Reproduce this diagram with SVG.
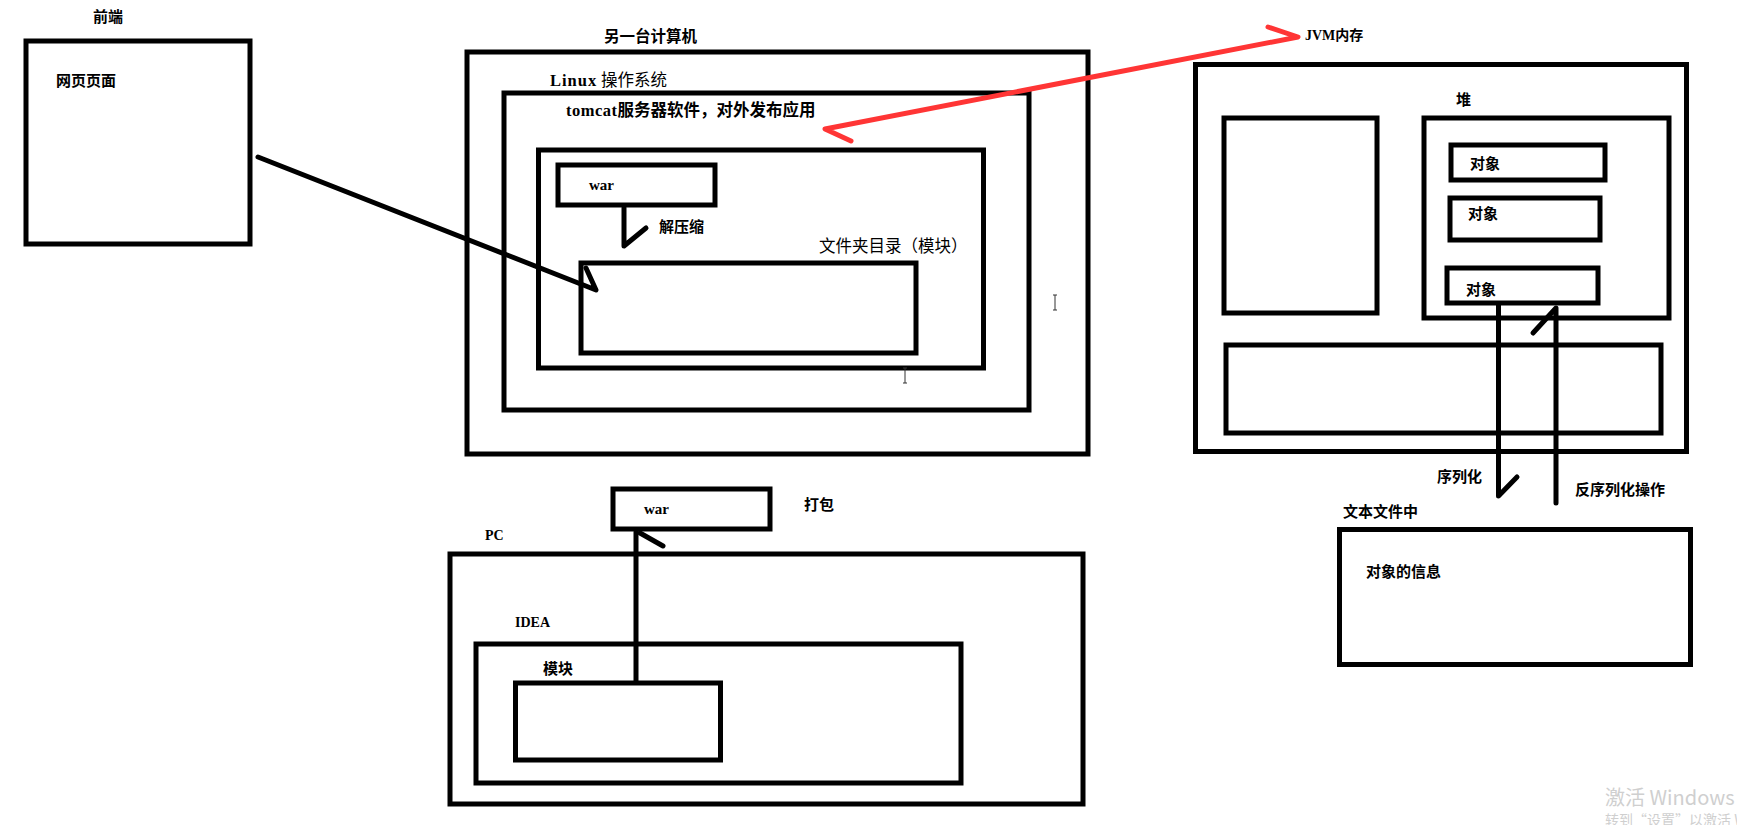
<svg xmlns="http://www.w3.org/2000/svg" width="1737" height="825" viewBox="0 0 1737 825">
<style>
.box{fill:none;stroke:#000;stroke-width:5}
.t{font-family:"Noto Sans CJK SC","Liberation Sans",sans-serif;font-size:15px;font-weight:700;fill:#000}
.n{font-weight:400}
.lat{font-family:"Liberation Serif","Noto Sans CJK SC",serif;font-weight:700}
.con{fill:none;stroke:#000;stroke-width:5;stroke-linecap:round;stroke-linejoin:round}
.red{fill:none;stroke:#ff3535;stroke-width:5;stroke-linecap:round;stroke-linejoin:round}
.wm{font-family:"Noto Sans CJK SC","Liberation Sans",sans-serif;fill:#cfcfcf}
.cur{fill:none;stroke:#333;stroke-width:1}
</style>
<rect width="1737" height="825" fill="#fff"/>

<g id="frontend">
  <rect class="box" x="26" y="41" width="224" height="203"/>
  <text class="t" x="93" y="22">前端</text>
  <text class="t" x="56" y="86">网页页面</text>
</g>

<g id="other-computer">
  <rect class="box" x="467" y="52" width="621" height="402"/>
  <text class="t" x="604" y="42" style="font-size:15.5px">另一台计算机</text>
</g>

<g id="linux">
  <rect class="box" x="504" y="93" width="525" height="317"/>
  <text class="t n" x="550" y="86" style="font-size:16.5px"><tspan class="lat" style="letter-spacing:1px">Linux</tspan> 操作系统</text>
</g>

<g id="tomcat">
  <rect class="box" x="538.5" y="150" width="445" height="218"/>
  <text class="t" x="566" y="116" style="font-size:16.5px"><tspan class="lat" style="letter-spacing:0.5px">tomcat</tspan>服务器软件，对外发布应用</text>
</g>

<g id="war-server">
  <rect class="box" x="558" y="165" width="157" height="40"/>
  <text class="t lat" x="589" y="190">war</text>
</g>

<g id="folder">
  <rect class="box" x="581" y="263" width="335" height="90"/>
  <text class="t n" x="819" y="252" style="font-size:16.5px">文件夹目录（模块）</text>
  <text class="t" x="659" y="232">解压缩</text>
</g>

<g id="jvm">
  <rect class="box" x="1195.5" y="64.5" width="491" height="387"/>
  <text class="t" x="1305" y="40" style="font-size:14px"><tspan class="lat">JVM</tspan>内存</text>
</g>

<g id="jvm-left">
  <rect class="box" x="1224" y="118" width="153" height="195"/>
</g>

<g id="heap">
  <rect class="box" x="1424" y="118" width="245" height="200"/>
  <text class="t" x="1456" y="105">堆</text>
</g>

<g id="obj1">
  <rect class="box" x="1451" y="145" width="154" height="35"/>
  <text class="t" x="1470" y="169">对象</text>
</g>
<g id="obj2">
  <rect class="box" x="1450" y="198" width="150" height="42"/>
  <text class="t" x="1468" y="219">对象</text>
</g>
<g id="obj3">
  <rect class="box" x="1447" y="268" width="151" height="35"/>
  <text class="t" x="1466" y="295">对象</text>
</g>

<g id="jvm-bottom">
  <rect class="box" x="1226" y="345" width="435" height="88"/>
</g>

<g id="textfile">
  <rect class="box" x="1339.5" y="529.5" width="351" height="135"/>
  <text class="t" x="1343" y="517">文本文件中</text>
  <text class="t" x="1366" y="577">对象的信息</text>
</g>

<g id="war-pc">
  <rect class="box" x="613" y="489" width="157" height="40"/>
  <text class="t lat" x="644" y="514">war</text>
  <text class="t" x="804" y="510">打包</text>
</g>

<g id="pc">
  <rect class="box" x="450" y="554" width="633" height="250"/>
  <text class="t lat" x="485" y="540" style="font-size:14px">PC</text>
</g>

<g id="idea">
  <rect class="box" x="476" y="644" width="485" height="139"/>
  <text class="t lat" x="515" y="627" style="font-size:14px">IDEA</text>
</g>

<g id="module">
  <rect class="box" x="515.5" y="683" width="205" height="77"/>
  <text class="t" x="543" y="674">模块</text>
</g>

<g id="labels">
  <text class="t" x="1437" y="482">序列化</text>
  <text class="t" x="1575" y="495">反序列化操作</text>
</g>

<g id="connectors">
  <path class="con" d="M258 157 L596 290 L586 268"/>
  <path class="con" d="M624 208 L624 246 L646 228"/>
  <path class="con" d="M636 681 L636 532"/>
  <path class="con" d="M640 533 L663 546"/>
  <path class="con" d="M1498.5 305 L1498.5 496 L1517 477"/>
  <path class="con" d="M1556 503 L1556 308 L1533 333"/>
  <path class="red" d="M1268 27 L1298 37 L825 129 L851 141"/>
</g>

<g id="cursors">
  <path class="cur" d="M1053 295 h4 M1055 295 v15 M1053 310 h4"/>
  <path class="cur" d="M903 368 h4 M905 368 v15 M903 383 h4"/>
</g>

<g id="watermark">
  <text class="wm" x="1605" y="805" style="font-size:20px">激活 Windows</text>
  <text class="wm" x="1605" y="825" style="font-size:14px">转到“设置”以激活 Windows。</text>
</g>
</svg>
